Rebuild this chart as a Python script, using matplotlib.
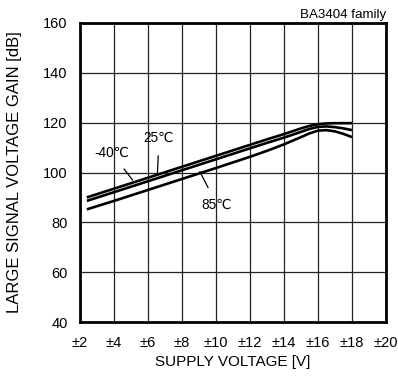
import matplotlib
matplotlib.use("Agg")
import matplotlib.pyplot as plt

plt.rcParams['font.family'] = ['Liberation Sans', 'DejaVu Sans']

# Supply voltage (±V)
voltage = [2.4, 4, 6, 8, 10, 12, 13, 14, 15, 15.5, 16, 16.5, 17, 17.5, 18]
gain_m40 = [90.0, 93.5, 97.9, 102.3, 106.7, 111.1, 113.3, 115.4, 117.7, 118.7, 119.4, 119.7, 119.8, 119.8, 119.8]
gain_25 = [88.6, 92.1, 96.5, 100.9, 105.3, 109.7, 111.9, 114.0, 116.3, 117.5, 118.3, 118.5, 118.2, 117.7, 117.0]
gain_85 = [85.2, 88.6, 93.0, 97.4, 101.8, 106.3, 108.7, 111.3, 114.2, 115.7, 116.8, 117.0, 116.5, 115.5, 114.2]

x_ticks = [2, 4, 6, 8, 10, 12, 14, 16, 18, 20]
x_tick_labels = ["±2", "±4", "±6", "±8", "±10", "±12", "±14", "±16", "±18", "±20"]
y_ticks = [40, 60, 80, 100, 120, 140, 160]

fig = plt.figure(figsize=(3.98, 3.76), dpi=100)
ax = fig.add_axes([80/398, 1 - 322/376, 306/398, 299/376])

for g in (gain_m40, gain_25, gain_85):
    ax.plot(voltage, g, color='black', lw=1.9, solid_capstyle='butt',
            solid_joinstyle='round', zorder=3)

ax.set_xlim(2, 20)
ax.set_ylim(40, 160)
ax.set_xticks(x_ticks)
ax.set_xticklabels(x_tick_labels)
ax.set_yticks(y_ticks)
ax.grid(True, color='#222222', lw=0.9)
ax.tick_params(axis='both', length=0, labelsize=10.5)
ax.tick_params(axis='y', pad=9)
ax.tick_params(axis='x', pad=10)
for s in ax.spines.values():
    s.set_linewidth(2.0)
    s.set_zorder(4)

ax.set_xlabel("SUPPLY VOLTAGE [V]", fontsize=11, labelpad=4)
ax.set_ylabel("LARGE SIGNAL VOLTAGE GAIN [dB]", fontsize=12)
ax.yaxis.set_label_coords(-0.19, 0.5)

# annotations
ax.annotate("-40℃", xy=(5.1, 96.9), xytext=(3.85, 108), fontsize=9.8,
            ha='center', va='center',
            arrowprops=dict(arrowstyle='-', color='black', lw=0.9, shrinkA=6, shrinkB=0))
ax.annotate("25℃", xy=(6.55, 99.0), xytext=(6.65, 114), fontsize=9.8,
            ha='center', va='center',
            arrowprops=dict(arrowstyle='-', color='black', lw=0.9, shrinkA=6, shrinkB=0))
ax.annotate("85℃", xy=(9.05, 100.4), xytext=(10.05, 87), fontsize=9.8,
            ha='center', va='center',
            arrowprops=dict(arrowstyle='-', color='black', lw=0.9, shrinkA=6, shrinkB=0))

fig.text(386/398, 1 - 15/376, "BA3404 family", fontsize=9.6, ha='right', va='center')

fig.savefig("out.png", dpi=100)
